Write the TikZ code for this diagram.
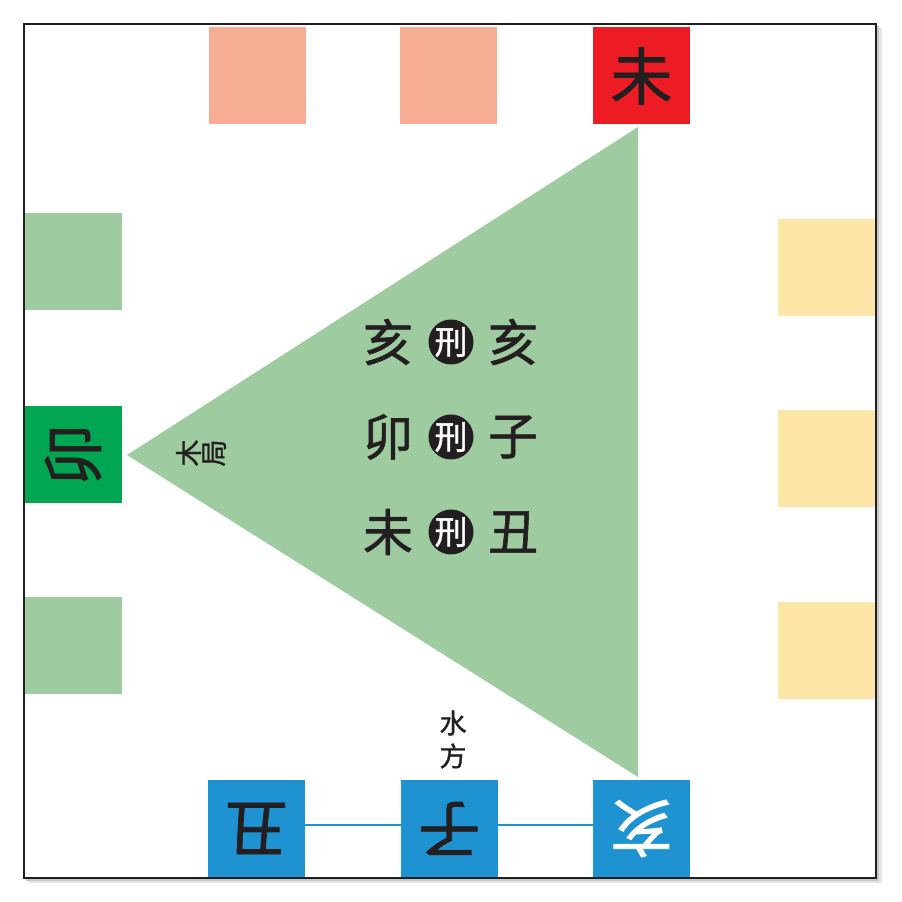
\documentclass[tikz,border=0pt]{standalone}
\usepackage{fontspec}
\newfontfamily\cjk[FakeBold=1.2]{Noto Sans CJK SC}
\definecolor{pinkc}{HTML}{F7AD94}
\definecolor{redc}{HTML}{ED1C24}
\definecolor{lgreen}{HTML}{9FCBA0}
\definecolor{dgreen}{HTML}{00A651}
\definecolor{yellowc}{HTML}{FEE6A8}
\definecolor{bluec}{HTML}{1F92D2}
\definecolor{inkc}{HTML}{231F20}
\tikzset{
  cell/.style={minimum width=97pt,minimum height=97pt,inner sep=0pt,outer sep=0pt,font=\cjk\fontsize{62}{62}\selectfont,text=inkc},
  bigchar/.style={inner sep=0pt,font=\cjk\fontsize{50}{50}\selectfont,text=inkc},
  xing/.style={circle,fill=inkc,minimum size=45pt,inner sep=0pt,text=white,font=\cjk\fontsize{33}{33}\selectfont},
  smalllabel/.style={inner sep=0pt,font=\cjk\fontsize{27}{27}\selectfont,text=inkc,align=center},
  link/.style={draw=bluec,line width=1.8pt}
}
\begin{document}
\begin{tikzpicture}[x=1pt,y=1pt]
\useasboundingbox (0,0) rectangle (902,902);
% frame shadow
\fill[black!10] (28,19) rectangle (882,874);
\fill[black!22] (26,21) rectangle (879,876);
\fill[white] (24,24) rectangle (876,878);
% triangle
\coordinate (apex) at (127,447);
\coordinate (tr) at (638,775);
\coordinate (br) at (638,125);
\fill[lgreen] (apex) -- (tr) -- (br) -- cycle;
% top
\node[cell,fill=pinkc] (t1) at (257.5,826) {};
\node[cell,fill=pinkc] (t2) at (448.5,826) {};
\node[cell,fill=redc] (t3) at (641.5,826) {未};
% left
\node[cell,fill=lgreen] (l1) at (73,640.5) {};
\node[cell,fill=dgreen,rotate=90] (l2) at (73,447) {卯};
\node[cell,fill=lgreen] (l3) at (73,256.5) {};
% right
\node[cell,fill=yellowc] (r1) at (826.5,634.5) {};
\node[cell,fill=yellowc] (r2) at (826.5,443.5) {};
\node[cell,fill=yellowc] (r3) at (826.5,251.5) {};
% bottom
\node[cell,fill=bluec,rotate=180] (b1) at (256.5,73.5) {丑};
\node[cell,fill=bluec,rotate=180] (b2) at (449.5,73.5) {子};
\node[cell,fill=bluec,rotate=180,text=white] (b3) at (641.5,73.5) {亥};
\draw[link] (b1.west |- 0,77) -- (b2.east |- 0,77);
\draw[link] (b2.west |- 0,77) -- (b3.east |- 0,77);
% frame
\draw[inkc,line width=2pt] (24,24) rectangle (876,878);
% centre text
\node[bigchar] (a1) at (388,560) {亥};
\node[xing] (x1) at (451,560) {刑};
\node[bigchar] (c1) at (513,560) {亥};
\node[bigchar] (a2) at (388,465) {卯};
\node[xing] (x2) at (451,465) {刑};
\node[bigchar] (c2) at (513,465) {子};
\node[bigchar] (a3) at (388,370) {未};
\node[xing] (x3) at (451,370) {刑};
\node[bigchar] (c3) at (513,370) {丑};
% labels
\node[smalllabel,rotate=90] (mu) at (201,449) {木\\[-2pt]局};
\node[smalllabel] (shui) at (453,179) {水};
\node[smalllabel] (fang) at (453,146) {方};
\end{tikzpicture}
\end{document}
